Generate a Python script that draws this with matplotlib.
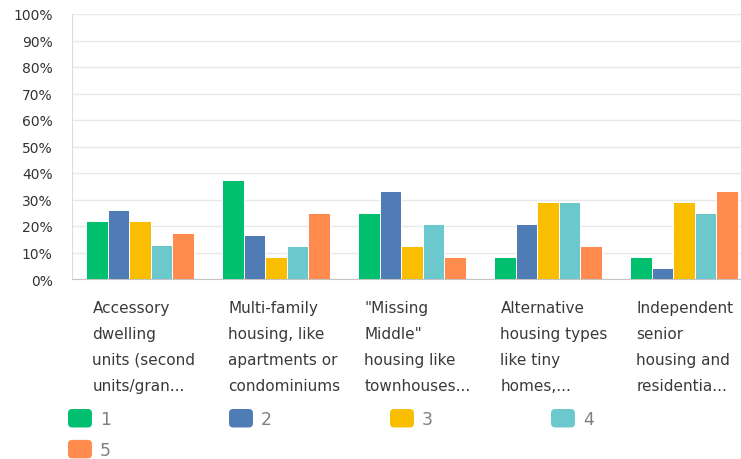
import matplotlib.pyplot as plt
from matplotlib.patches import Patch, FancyBboxPatch
from matplotlib.legend_handler import HandlerPatch
from matplotlib.ticker import FuncFormatter
import matplotlib.transforms as mtransforms
import numpy as np

categories = [
    "Accessory\ndwelling\nunits (second\nunits/gran...",
    "Multi-family\nhousing, like\napartments or\ncondominiums",
    "\"Missing\nMiddle\"\nhousing like\ntownhouses...",
    "Alternative\nhousing types\nlike tiny\nhomes,...",
    "Independent\nsenior\nhousing and\nresidentia...",
]
series_names = ["1", "2", "3", "4", "5"]
colors = ["#00BF6F", "#507CB6", "#F9BE00", "#6BC8CD", "#FF8B4F"]

# percent of respondents per rating
rating_1 = [21.7, 37.5, 25.0, 8.3, 8.3]
rating_2 = [26.1, 16.7, 33.3, 20.8, 4.2]
rating_3 = [21.7, 8.3, 12.5, 29.2, 29.2]
rating_4 = [13.0, 12.5, 20.8, 29.2, 25.0]
rating_5 = [17.4, 25.0, 8.3, 12.5, 33.3]
values = [rating_1, rating_2, rating_3, rating_4, rating_5]

W, H = 741, 460
fig = plt.figure(figsize=(W / 100, H / 100), dpi=100)
ax = fig.add_axes([72 / W, 180 / H, 680 / W, 265 / H])

x = np.arange(len(categories))
bw = 0.159
for i, (vals, col) in enumerate(zip(values, colors)):
    ax.bar(x + (i - 2) * bw, vals, width=bw, color=col, edgecolor="white",
           linewidth=0.7, zorder=3)

ax.set_xlim(-0.5, 4.5)
ax.set_ylim(0, 100)
ax.set_yticks(np.arange(0, 101, 10))
ax.yaxis.set_major_formatter(FuncFormatter(lambda v, p: f"{int(v)}%"))
ax.set_xticks([])
ax.tick_params(axis="y", length=0, pad=14, labelsize=10, labelcolor="#333333")
ax.grid(axis="y", color="#e8e8e8", linewidth=1, zorder=0)
for s in ["top", "right"]:
    ax.spines[s].set_visible(False)
ax.spines["left"].set_color("#dddddd")
ax.spines["bottom"].set_color("#c4c4c4")

trans = mtransforms.blended_transform_factory(ax.transData, ax.transAxes)
for i, lab in enumerate(categories):
    ax.text(x[i] - 0.35, -0.08, lab, transform=trans, ha="left", va="top",
            fontsize=11, color="#3a3a3a", linespacing=1.9)


class RoundHandler(HandlerPatch):
    def create_artists(self, legend, orig_handle, xdescent, ydescent, width,
                       height, fontsize, trans):
        r = 3
        p = FancyBboxPatch((-xdescent + r, -ydescent + r), width - 2 * r,
                           height - 2 * r, boxstyle=f"round,pad={r}",
                           fc=orig_handle.get_facecolor(), ec="none",
                           transform=trans)
        return [p]


handles = [Patch(facecolor=c) for c in colors]
# matplotlib fills legend columns first; reorder so 1-4 sit on row one
order = [0, 4, 1, 2, 3]
fig.legend([handles[k] for k in order], [series_names[k] for k in order],
           loc="upper left", bbox_to_anchor=(68 / W, 1 - 410 / H), ncol=4,
           frameon=False, fontsize=12.5, labelcolor="#808080",
           handlelength=1.38, handleheight=1.26, handletextpad=0.46,
           columnspacing=6.8, labelspacing=0.68, borderpad=0,
           borderaxespad=0, handler_map={Patch: RoundHandler()})

fig.savefig("out.png", dpi=100)
